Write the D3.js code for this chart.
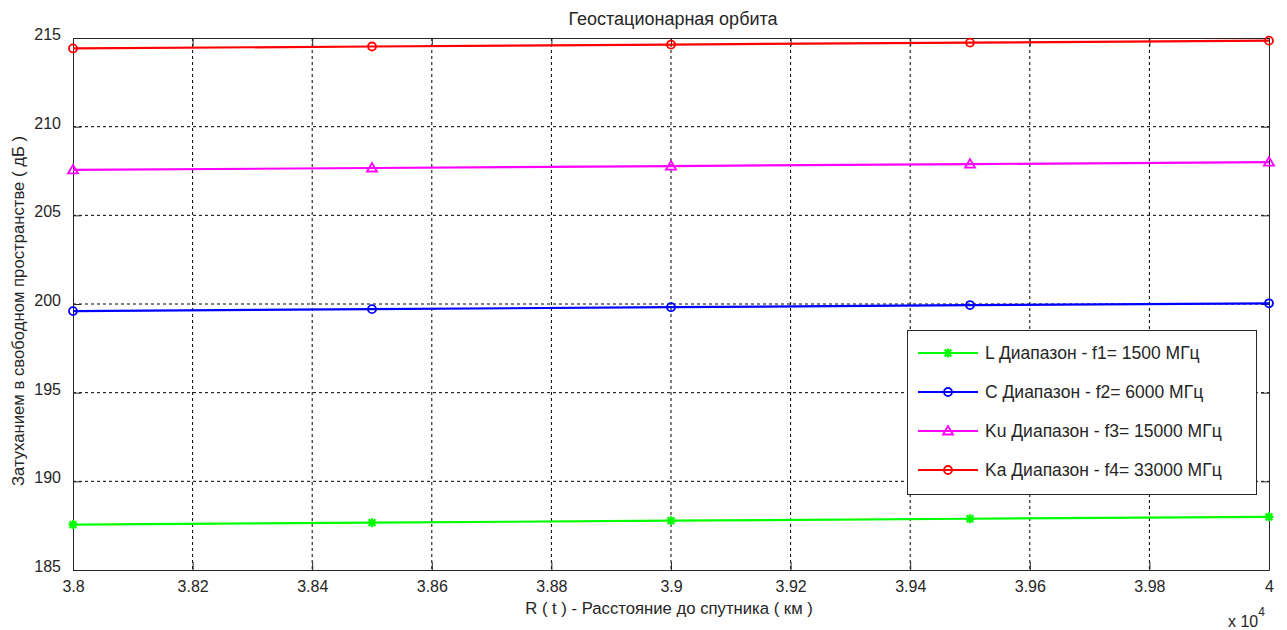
<!DOCTYPE html>
<html><head><meta charset="utf-8">
<script src="https://cdn.jsdelivr.net/npm/d3@7/dist/d3.min.js"></script>
<style>body{margin:0;background:#fff}svg{display:block}text{font-family:"Liberation Sans",Arial,sans-serif;fill:#262626}</style>
</head><body>
<svg id="c" width="1287" height="630"></svg>
<script>
const distances = [38000, 38500, 39000, 39500, 40000];
const lossL  = [187.56, 187.67, 187.78, 187.89, 188.00];
const lossC  = [199.60, 199.71, 199.82, 199.94, 200.04];
const lossKu = [207.56, 207.67, 207.78, 207.89, 208.00];
const lossKa = [214.41, 214.52, 214.63, 214.74, 214.85];
const seriesNames = ["L Диапазон - f1= 1500 МГц","C Диапазон - f2= 6000 МГц","Ku Диапазон - f3= 15000 МГц","Ka Диапазон - f4= 33000 МГц"];
const seriesColors = ["#00ff00","#0000ff","#ff00ff","#ff0000"];
const seriesMarkers = ["star","circle","triangle","circle"];
const xTicks = [38000,38200,38400,38600,38800,39000,39200,39400,39600,39800,40000];
const xTickLabels = ["3.8","3.82","3.84","3.86","3.88","3.9","3.92","3.94","3.96","3.98","4"];
const yTicks = [185,190,195,200,205,210,215];

const svg = d3.select("#c");
const L=73, R=1269, T=38, B=570;
const x = d3.scaleLinear().domain([38000,40000]).range([L,R]);
const y = d3.scaleLinear().domain([185,215]).range([B,T]);

// grid
const g = svg.append("g");
g.selectAll(".gx").data(xTicks.slice(1,-1)).enter().append("line")
 .attr("x1",d=>x(d)).attr("x2",d=>x(d)).attr("y1",T).attr("y2",B)
 .attr("stroke","#000").attr("stroke-width",1).attr("stroke-dasharray","3,3");
g.selectAll(".gy").data(yTicks.slice(1,-1)).enter().append("line")
 .attr("y1",d=>y(d)).attr("y2",d=>y(d)).attr("x1",L).attr("x2",R)
 .attr("stroke","#000").attr("stroke-width",1).attr("stroke-dasharray","3,3");

// axes
const tk=8;
const axB = svg.append("g").attr("transform",`translate(0,${B})`)
 .call(d3.axisBottom(x).tickValues(xTicks).tickFormat((d,i)=>xTickLabels[i]).tickSizeInner(-tk).tickSizeOuter(0).tickPadding(tk+9));
const axT = svg.append("g").attr("transform",`translate(0,${T})`)
 .call(d3.axisTop(x).tickValues(xTicks).tickFormat("").tickSizeInner(-tk).tickSizeOuter(0));
const axLf = svg.append("g").attr("transform",`translate(${L},0)`)
 .call(d3.axisLeft(y).tickValues(yTicks).tickSizeInner(-tk).tickSizeOuter(0).tickPadding(tk+4));
const axRt = svg.append("g").attr("transform",`translate(${R},0)`)
 .call(d3.axisRight(y).tickValues(yTicks).tickFormat("").tickSizeInner(-tk).tickSizeOuter(0));
[axB,axT,axLf,axRt].forEach(a=>{
  a.attr("font-size",16);
  a.select(".domain").attr("stroke","#262626");
  a.selectAll(".tick line").attr("stroke","#262626");
  a.selectAll("text").attr("font-size",16).attr("fill","#262626").style("font-family",'"Liberation Sans",Arial,sans-serif');
});
axB.selectAll("text").attr("dy","0.3em");
axLf.selectAll("text").attr("dy","0.1em");

// series
const allSeries=[lossL,lossC,lossKu,lossKa];
const line = d3.line().x((d,i)=>x(distances[i])).y(d=>y(d));
function marker(sel, type, color, cx, cy){
  if(type==="circle"){
    sel.append("circle").attr("cx",cx).attr("cy",cy).attr("r",4).attr("fill","none").attr("stroke",color).attr("stroke-width",1.8);
  } else if(type==="triangle"){
    sel.append("path").attr("d",`M${cx},${cy-5}L${cx+5},${cy+3.5}L${cx-5},${cy+3.5}Z`).attr("fill","none").attr("stroke",color).attr("stroke-width",1.8);
  } else {
    const s=4.5;
    sel.append("path").attr("d",`M${cx-s},${cy}L${cx+s},${cy}M${cx},${cy-s}L${cx},${cy+s}M${cx-s*0.75},${cy-s*0.75}L${cx+s*0.75},${cy+s*0.75}M${cx-s*0.75},${cy+s*0.75}L${cx+s*0.75},${cy-s*0.75}`)
      .attr("stroke",color).attr("stroke-width",2.2);
  }
}
allSeries.forEach((vals,k)=>{
  const sg=svg.append("g");
  sg.append("path").datum(vals).attr("d",line).attr("fill","none").attr("stroke",seriesColors[k]).attr("stroke-width",2.2);
  vals.forEach((v,i)=>marker(sg,seriesMarkers[k],seriesColors[k],x(distances[i]),y(v)));
});

// legend
const lg=svg.append("g");
lg.append("rect").attr("x",907.5).attr("y",330.5).attr("width",349).attr("height",164).attr("fill","#fff").attr("stroke","#262626").attr("stroke-width",1);
seriesNames.forEach((n,k)=>{
  const yy=353+k*39;
  lg.append("line").attr("x1",918).attr("x2",978).attr("y1",yy).attr("y2",yy).attr("stroke",seriesColors[k]).attr("stroke-width",2.2);
  marker(lg,seriesMarkers[k],seriesColors[k],948,yy);
  lg.append("text").attr("x",985).attr("y",yy+6).attr("font-size",17.5).text(n);
});

// labels
svg.append("text").attr("x",673).attr("y",25).attr("text-anchor","middle").attr("font-size",18).text("Геостационарная орбита");
svg.append("text").attr("x",669).attr("y",614).attr("text-anchor","middle").attr("font-size",16.7).text("R ( t ) - Расстояние до спутника ( км )");
svg.append("text").attr("transform","translate(24,311) rotate(-90)").attr("text-anchor","middle").attr("font-size",16.7).text("Затуханием в свободном пространстве ( дБ )");
const ex=svg.append("text").attr("x",1228).attr("y",627).attr("font-size",16).text("x 10");
ex.append("tspan").attr("dy",-11).attr("font-size",12).text("4");
</script>
</body></html>
